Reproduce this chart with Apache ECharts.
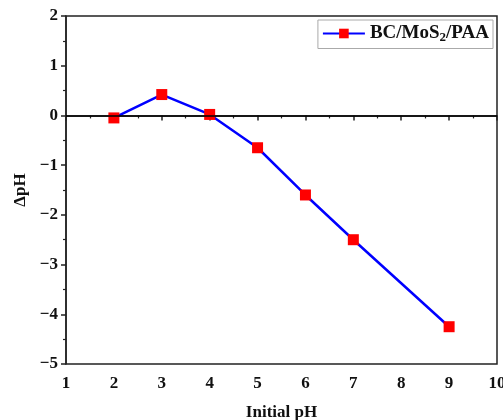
<!DOCTYPE html>
<html><head><meta charset="utf-8">
<script src="https://cdn.jsdelivr.net/npm/echarts@6/dist/echarts.min.js"></script>
<style>html,body{margin:0;padding:0;background:#fff}#c{width:503px;height:420px}</style>
</head><body><div id="c"></div>
<script>
const initialPH = [2, 3, 4, 5, 6, 7, 9];
const deltaPH = [-0.05, 0.42, 0.02, -0.65, -1.6, -2.5, -4.25];
const seriesName = 'BC/MoS2/PAA';
const xTicks = [1, 2, 3, 4, 5, 6, 7, 8, 9, 10];
const yTicks = [-5, -4, -3, -2, -1, 0, 1, 2];

const font = '"Liberation Serif", "Times New Roman", serif';
const fmtMinus = v => String(v).replace('-', '\u2212');
const chart = echarts.init(document.getElementById('c'), null, {renderer: 'canvas'});
chart.setOption({
  animation: false,
  backgroundColor: '#fff',
  grid: {left: 66, right: 6, top: 16, bottom: 56, containLabel: false, outerBoundsMode: 'none', show: true, borderColor: '#222', borderWidth: 1.5, backgroundColor: 'transparent'},
  legend: {
    right: 10, top: 20, itemWidth: 42, itemHeight: 12, itemGap: 4,
    borderColor: '#aaa', borderWidth: 1, padding: [4, 4, 4, 4],
    data: [{name: seriesName}],
    formatter: () => '{b|BC/MoS}{s|2}{b|/PAA}',
    textStyle: {
      fontFamily: font, fontWeight: 'bold', fontSize: 19, color: '#111',
      rich: {
        b: {fontFamily: font, fontWeight: 'bold', fontSize: 19, color: '#111'},
        s: {fontFamily: font, fontWeight: 'bold', fontSize: 13, color: '#111', verticalAlign: 'bottom', padding: [9, 0, 0, 0]}
      }
    }
  },
  xAxis: {
    type: 'value', min: xTicks[0], max: xTicks[xTicks.length - 1], interval: 1,
    name: 'Initial pH', nameLocation: 'middle', nameGap: 40,
    nameTextStyle: {fontFamily: font, fontWeight: 'bold', fontSize: 17, color: '#111'},
    axisLine: {lineStyle: {color: '#222', width: 1.5}},
    axisTick: {inside: false, length: 5, lineStyle: {color: '#222', width: 1.5}},
    minorTick: {show: true, splitNumber: 2, length: 3, lineStyle: {color: '#222', width: 1.2}},
    axisLabel: {fontFamily: font, fontWeight: 'bold', fontSize: 17, color: '#111', margin: 11},
    splitLine: {show: false}
  },
  yAxis: {
    type: 'value', min: yTicks[0], max: yTicks[yTicks.length - 1], interval: 1,
    name: 'ΔpH', nameLocation: 'middle', nameGap: 36, nameRotate: 90,
    nameTextStyle: {fontFamily: font, fontWeight: 'bold', fontSize: 17, color: '#111'},
    axisLine: {onZero: false, lineStyle: {color: '#222', width: 1.5}},
    axisTick: {inside: false, length: 5, lineStyle: {color: '#222', width: 1.5}},
    minorTick: {show: true, splitNumber: 2, length: 3, lineStyle: {color: '#222', width: 1.2}},
    axisLabel: {fontFamily: font, fontWeight: 'bold', fontSize: 17, color: '#111', margin: 8, formatter: fmtMinus},
    splitLine: {show: false}
  },
  series: [{
    name: seriesName, type: 'line',
    data: initialPH.map((x, i) => [x, deltaPH[i]]),
    lineStyle: {color: '#0000ff', width: 2.5},
    itemStyle: {color: '#ff0000'},
    symbol: 'rect', symbolSize: 11,
    markLine: {
      silent: true, symbol: 'none', label: {show: false},
      lineStyle: {color: '#000', width: 1.5, type: 'solid'},
      data: [{yAxis: 0}]
    }
  }]
});
</script></body></html>
